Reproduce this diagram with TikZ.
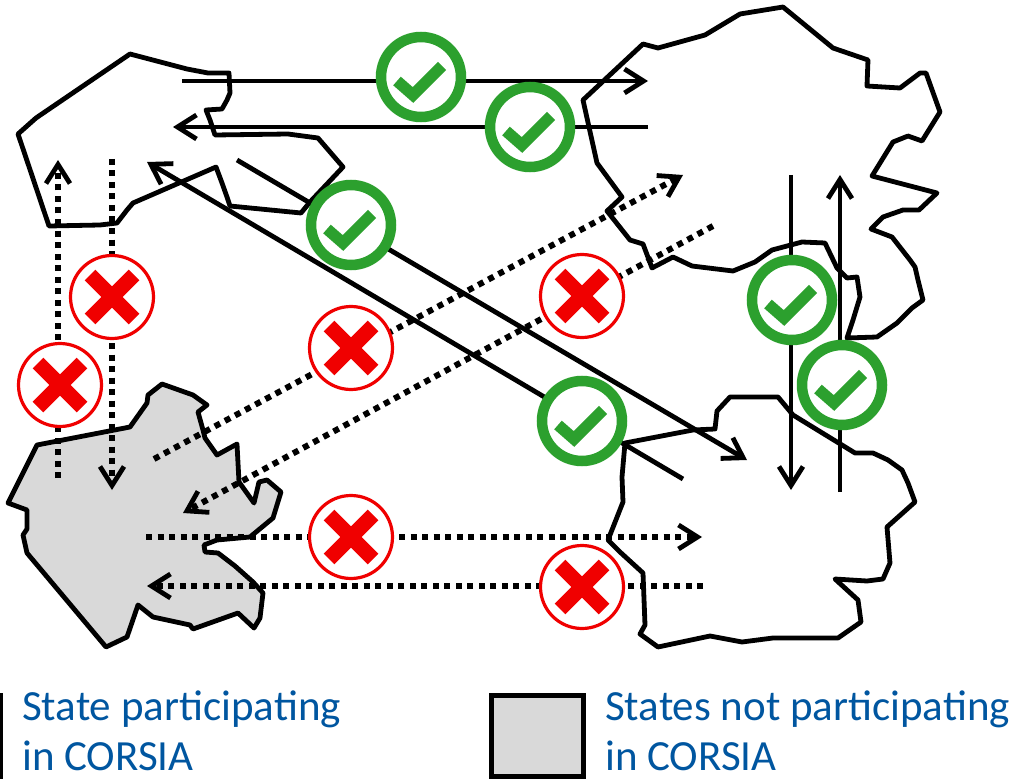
\documentclass[tikz,border=0pt]{standalone}
\usepackage{fontspec}
\setmainfont{Carlito}
\usetikzlibrary{arrows.meta}
\definecolor{chkgreen}{RGB}{44,160,46}
\definecolor{xred}{RGB}{240,0,0}
\definecolor{legblue}{RGB}{0,86,160}
\definecolor{stategrey}{RGB}{217,217,217}
\tikzset{
  country/.style={draw=black, line width=4.8pt, line join=round},
  solidarrow/.style={draw=black, line width=4.8pt, -{Straight Barb[length=19pt,width=24pt,line width=4.8pt]}},
  dotarrow/.style={draw=black, line width=6pt, dash pattern=on 6pt off 5.5pt, -{Straight Barb[length=19pt,width=24pt,line width=4.8pt]}},
  chk/.style={circle, draw=chkgreen, line width=10.5pt, fill=white, minimum size=80pt, inner sep=0pt,
    path picture={\draw[chkgreen, line width=11.5pt, line cap=butt, line join=miter]
      ([shift={(-24,4)}]path picture bounding box.center) --
      ([shift={(-8,18)}]path picture bounding box.center) --
      ([shift={(21,-11)}]path picture bounding box.center);}},
  crs/.style={circle, draw=xred, line width=3.2pt, fill=white, minimum size=83pt, inner sep=0pt,
    path picture={\draw[xred, line width=15pt, line cap=butt]
      ([shift={(-22,-22)}]path picture bounding box.center) --
      ([shift={(22,22)}]path picture bounding box.center)
      ([shift={(-22,22)}]path picture bounding box.center) --
      ([shift={(22,-22)}]path picture bounding box.center);}},
  legtext/.style={text=legblue, font=\fontsize{43}{52}\selectfont, inner sep=0pt, anchor=base west},
  legbox/.style={draw=black, line width=5pt}
}
\begin{document}
\begin{tikzpicture}[x=1pt, y=-1pt]
\useasboundingbox (0,0) rectangle (1021,781);
\fill[white] (0,0) rectangle (1021,781);
\clip (0,0) rectangle (1021,781);

% ---- countries ----
% top-left (participating)
\draw[country, fill=white] (18,134) -- (36,118) -- (130,54) -- (187,69) -- (208,73) -- (229,73)
  -- (230,93) -- (227,100) -- (222,109) -- (206,110) -- (210,120) -- (215,135) -- (288,134)
  -- (318,138) -- (343,167) -- (310,202) -- (301,213) -- (230,206) -- (227,197) -- (222,183)
  -- (216,167) -- (133,203) -- (127,210) -- (117,223) -- (100,225) -- (49,226) -- cycle;
% top-right (participating)
\draw[country, fill=white] (583,100) -- (643,44) -- (658,48) -- (705,35) -- (740,14) -- (783,7)
  -- (833,48) -- (868,60) -- (867,86) -- (900,88) -- (920,73) -- (926,73) -- (940,112)
  -- (922,141) -- (908,136) -- (893,142) -- (872,176) -- (937,193) -- (919,210) -- (903,210)
  -- (883,217) -- (871,229) -- (892,237) -- (910,260) -- (915,267) -- (918,280) -- (923,300)
  -- (912,308) -- (897,323) -- (877,337) -- (847,338) -- (853,320) -- (860,297) -- (857,277)
  -- (847,278) -- (837,268) -- (825,243) -- (802,242) -- (772,250) -- (755,262) -- (733,271)
  -- (692,266) -- (673,257) -- (652,268) -- (643,244) -- (630,240) -- (607,211) -- (622,197)
  -- (597,163) -- cycle;
% bottom-right (participating)
\draw[country, fill=white] (625,443) -- (693,430) -- (715,429) -- (717,411) -- (730,397) -- (778,397)
  -- (793,415) -- (855,453) -- (873,453) -- (888,460) -- (902,470) -- (908,483) -- (915,502)
  -- (887,527) -- (890,563) -- (883,579) -- (867,581) -- (835,579) -- (858,600) -- (861,622)
  -- (838,638) -- (773,638) -- (742,642) -- (710,636) -- (658,647) -- (640,634) -- (645,625)
  -- (643,573) -- (620,552) -- (608,540) -- (623,502) -- (622,477) -- cycle;
% bottom-left (not participating)
\draw[country, fill=stategrey] (37,445) -- (130,427) -- (147,403) -- (148,395) -- (162,384) -- (193,395)
  -- (207,405) -- (198,412) -- (203,430) -- (205,438) -- (217,455) -- (237,444) -- (239,482)
  -- (254,503) -- (259,482) -- (267,480) -- (281,492) -- (273,518) -- (250,537) -- (217,540)
  -- (204,545) -- (205,552) -- (218,553) -- (235,566) -- (253,582) -- (263,593) -- (260,618)
  -- (254,628) -- (238,613) -- (193,629) -- (190,625) -- (153,617) -- (138,605) -- (127,637)
  -- (106,647) -- (27,553) -- (23,535) -- (27,529) -- (27,510) -- (8,503) -- cycle;

% ---- connector end points ----
\coordinate (a1s) at (182,81);  \coordinate (a1e) at (648,81);
\coordinate (a2s) at (648,127); \coordinate (a2e) at (173,127);
\coordinate (a3s) at (683,479); \coordinate (a3e) at (147,162);
\coordinate (a4s) at (237,160); \coordinate (a4e) at (747,460);
\coordinate (a5s) at (791,175); \coordinate (a5e) at (791,490);
\coordinate (a6s) at (840,492); \coordinate (a6e) at (840,175);
\coordinate (d1s) at (58,478);  \coordinate (d1e) at (58,160);
\coordinate (d2s) at (112,159); \coordinate (d2e) at (112,490);
\coordinate (d3s) at (154,459); \coordinate (d3e) at (683,175);
\coordinate (d4s) at (713,226); \coordinate (d4e) at (183,513);
\coordinate (d5s) at (146,537); \coordinate (d5e) at (702,537);
\coordinate (d6s) at (703,586); \coordinate (d6e) at (147,586);

% ---- flights between participating states (solid) ----
\draw[solidarrow] (a1s) -- (a1e);
\draw[solidarrow] (a2s) -- (a2e);
\draw[solidarrow] (a3s) -- (a3e);
\draw[solidarrow] (a4s) -- (a4e);
\draw[solidarrow] (a5s) -- (a5e);
\draw[solidarrow] (a6s) -- (a6e);

% ---- flights involving the non-participating state (dotted) ----
\draw[dotarrow] (d1s) -- (d1e);
\draw[dotarrow] (d2s) -- (d2e);
\draw[dotarrow] (d3s) -- (d3e);
\draw[dotarrow] (d4s) -- (d4e);
\draw[dotarrow] (d5s) -- (d5e);
\draw[dotarrow] (d6s) -- (d6e);

% ---- icons ----
\node[chk] (c1) at (421,77) {};
\node[chk] (c2) at (530,127) {};
\node[chk] (c3) at (351,225) {};
\node[chk] (c4) at (582,421) {};
\node[chk] (c5) at (792,300) {};
\node[chk] (c6) at (842,385) {};

\node[crs] (x1) at (112,297) {};
\node[crs] (x2) at (60,385) {};
\node[crs] (x3) at (351,348) {};
\node[crs] (x4) at (582,296) {};
\node[crs] (x5) at (351,537) {};
\node[crs] (x6) at (582,587) {};

% ---- legend ----
\draw[legbox, fill=white] (-90,695) rectangle (0,776);
\draw[legbox, fill=stategrey] (491,695) rectangle (583,776);
\node[legtext] (l1a) at (22,720) {State participating};
\node[legtext] (l1b) at (22,770) {in CORSIA};
\node[legtext] (l2a) at (605,720) {States not participating};
\node[legtext] (l2b) at (605,770) {in CORSIA};
\end{tikzpicture}
\end{document}
